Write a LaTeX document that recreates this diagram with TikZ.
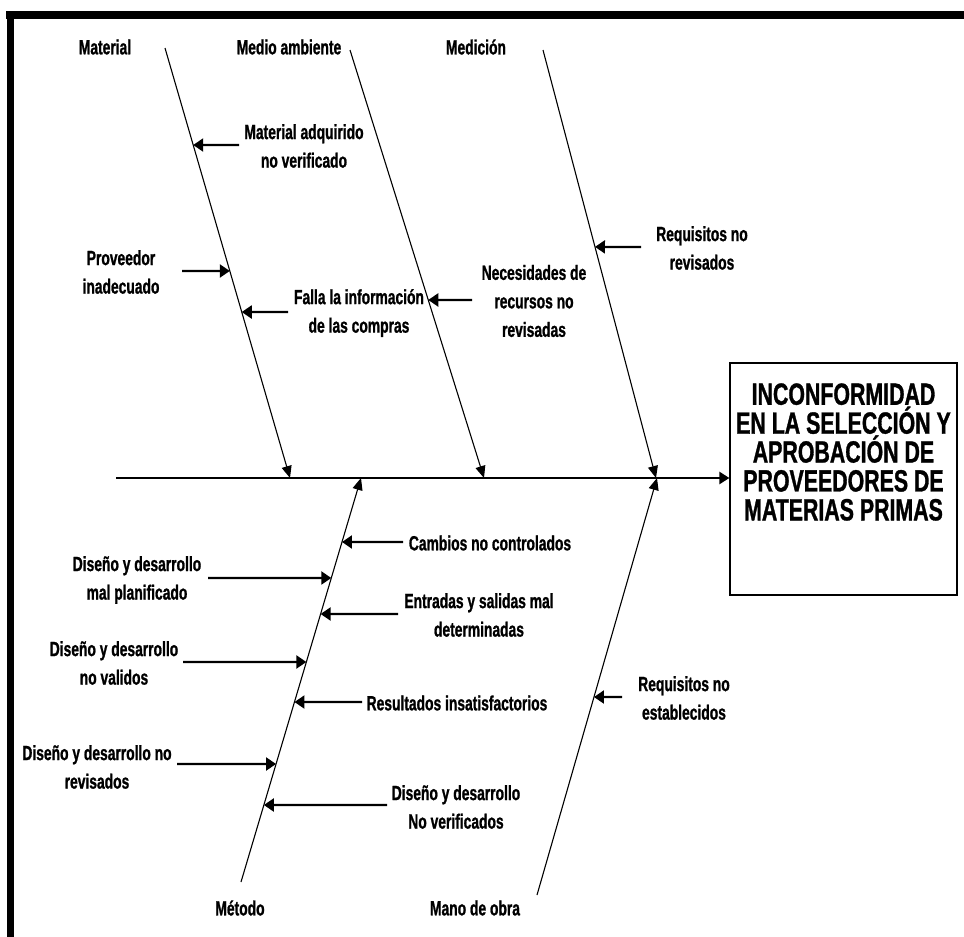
\documentclass[tikz,border=0pt]{standalone}
\usepackage{fontspec}
\setmainfont{Liberation Sans}[FakeStretch=0.675, BoldFeatures={FakeBold=1}]
\newfontfamily\headfont{Liberation Sans}[FakeStretch=0.695, BoldFeatures={FakeBold=1}]
\usetikzlibrary{arrows.meta,calc}

\tikzset{
  bone/.style={line width=1.1pt, -{Triangle[length=12pt,width=10pt]}},
  twig/.style={line width=2.2pt, -{Triangle[length=10pt,width=13pt]}},
  spine/.style={line width=2.4pt, -{Triangle[length=10pt,width=12pt]}},
  lbl/.style={align=center, inner sep=0pt, font=\fontsize{20.5}{28.5}\selectfont\bfseries},
  effect/.style={draw, line width=1.2pt, minimum width=227pt, minimum height=232pt, inner sep=0pt},
  effecttext/.style={align=center, inner sep=0pt,
    font=\headfont\fontsize{30.7}{28.9}\selectfont\bfseries},
  frame/.style={fill=black},
}

\begin{document}
\begin{tikzpicture}[x=1pt,y=-1pt]
\useasboundingbox (0,0) rectangle (964,937);
\fill[white] (0,0) rectangle (964,937);

% heavy frame along the top and left edges
\fill[frame] (6,11) rectangle (964,19);
\fill[frame] (7,11) rectangle (14,937);

% effect box and main spine
\node[effect] (effect) at (843.5,479) {};
\node[effecttext] (effectlabel) at (843.5,452) {INCONFORMIDAD\\EN LA SELECCIÓN Y\\APROBACIÓN DE\\PROVEEDORES DE\\MATERIAS PRIMAS};
\coordinate (s0) at (116,478);
\draw[spine] (s0) -- (s0 -| effect.west);

% bone end points
\coordinate (M0) at (165,48);  \coordinate (M1) at (290,478);
\coordinate (A0) at (350,50);  \coordinate (A1) at (484,478);
\coordinate (D0) at (543,50);  \coordinate (D1) at (656,478);
\coordinate (T0) at (241,882); \coordinate (T1) at (361,478);
\coordinate (O0) at (537,895); \coordinate (O1) at (657,478);

\draw[bone] (M0) -- (M1);
\draw[bone] (A0) -- (A1);
\draw[bone] (D0) -- (D1);
\draw[bone] (T0) -- (T1);
\draw[bone] (O0) -- (O1);

% category labels
\node[lbl] (lM) at (105,47) {Material};
\node[lbl] (lA) at (289,47) {Medio ambiente};
\node[lbl] (lD) at (476,47) {Medición};
\node[lbl] (lT) at (240,908) {Método};
\node[lbl] (lO) at (475,908) {Mano de obra};

% causes on Material
\coordinate (m1) at ($(M0)!0.2256!(M1)$);
\coordinate (m2) at ($(M0)!0.5186!(M1)$);
\coordinate (m3) at ($(M0)!0.6140!(M1)$);
\node[lbl] (cm1) at (304,146) {Material adquirido\\no verificado};
\node[lbl] (cm2) at (121,272) {Proveedor\\inadecuado};
\node[lbl] (cm3) at (359,313) {Falla la información\\de las compras};
\coordinate (tm1) at (239,145);
\coordinate (tm2) at (182,271);
\coordinate (tm3) at (288,312);
\draw[twig] (tm1) -- (m1);
\draw[twig] (tm2) -- (m2);
\draw[twig] (tm3) -- (m3);

% causes on Medio ambiente
\coordinate (a1) at ($(A0)!0.584!(A1)$);
\node[lbl] (ca1) at (534,301) {Necesidades de\\recursos no\\revisadas};
\coordinate (ta1) at (472,300);
\draw[twig] (ta1) -- (a1);

% causes on Medición
\coordinate (d1) at ($(D0)!0.460!(D1)$);
\node[lbl] (cd1) at (702,248) {Requisitos no\\revisados};
\coordinate (td1) at (641,247);
\draw[twig] (td1) -- (d1);

% causes on Método
\coordinate (t1) at ($(T0)!0.8416!(T1)$);
\coordinate (t2) at ($(T0)!0.7525!(T1)$);
\coordinate (t3) at ($(T0)!0.6634!(T1)$);
\coordinate (t4) at ($(T0)!0.5446!(T1)$);
\coordinate (t5) at ($(T0)!0.4455!(T1)$);
\coordinate (t6) at ($(T0)!0.2921!(T1)$);
\coordinate (t7) at ($(T0)!0.1906!(T1)$);
\node[lbl] (ct1) at (490,543) {Cambios no controlados};
\node[lbl] (ct2) at (137,580) {Diseño y desarrollo\\mal planificado};
\node[lbl] (ct3) at (479,615) {Entradas y salidas mal\\determinadas};
\node[lbl] (ct4) at (114,663) {Diseño y desarrollo\\no validos};
\node[lbl] (ct5) at (457,703) {Resultados insatisfactorios};
\node[lbl] (ct6) at (97,767) {Diseño y desarrollo no\\revisados};
\node[lbl] (ct7) at (456,807) {Diseño y desarrollo\\No verificados};
\coordinate (tt1) at (403,542);
\coordinate (tt2) at (208,578);
\coordinate (tt3) at (398,614);
\coordinate (tt4) at (183,662);
\coordinate (tt5) at (362,702);
\coordinate (tt6) at (177,764);
\coordinate (tt7) at (387,805);
\draw[twig] (tt1) -- (t1);
\draw[twig] (tt2) -- (t2);
\draw[twig] (tt3) -- (t3);
\draw[twig] (tt4) -- (t4);
\draw[twig] (tt5) -- (t5);
\draw[twig] (tt6) -- (t6);
\draw[twig] (tt7) -- (t7);

% causes on Mano de obra
\coordinate (o1) at ($(O0)!0.4748!(O1)$);
\node[lbl] (co1) at (684,698) {Requisitos no\\establecidos};
\coordinate (to1) at (622,697);
\draw[twig] (to1) -- (o1);
\end{tikzpicture}
\end{document}
